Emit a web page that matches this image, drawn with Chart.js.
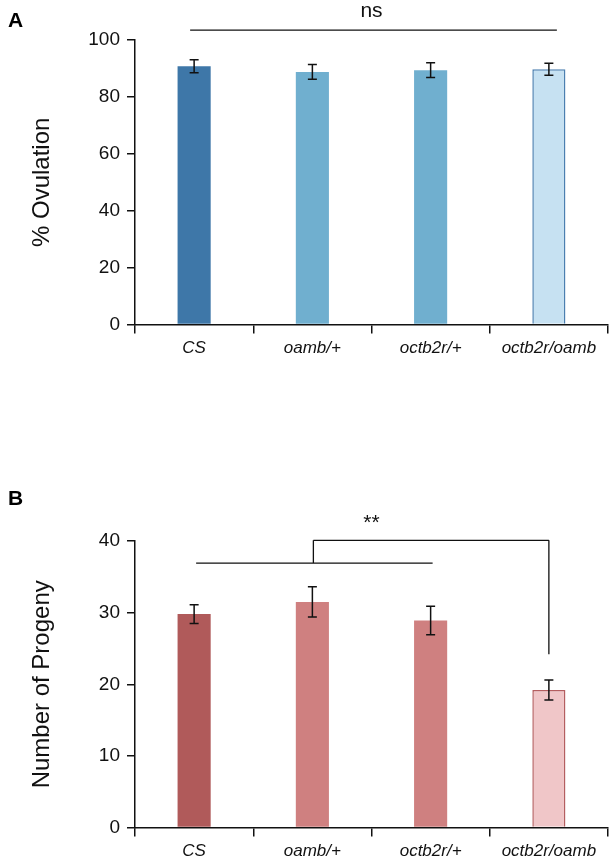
<!DOCTYPE html>
<html lang="en">
  <head>
    <title>Ovulation and progeny</title>
    <meta charset="UTF-8" />
    <style>
      body { margin: 0; background: #fff; overflow: hidden; }
      .panel { position: relative; width: 611px; }
      .letter { position: absolute; left: 8px; font: bold 21px "Liberation Sans", Arial, sans-serif; }
    </style>
  </head>
  <body>
    <div class="panel" style="height:407px">
      <div class="letter" style="top:8px">A</div>
      <canvas id="chartA"></canvas>
    </div>
    <div class="panel" style="height:458px">
      <div class="letter" style="top:79px">B</div>
      <canvas id="chartB"></canvas>
    </div>
    <script src="https://cdn.jsdelivr.net/npm/chart.js@4.4.0/dist/chart.umd.min.js"></script>
    <script>
      var categories = ["CS", "oamb/+", "octb2r/+", "octb2r/oamb"];

      // panel A
      var ovulation = [90.8, 88.8, 89.4, 89.7];
      var ovulationErr = [2.3, 2.6, 2.6, 2.1];
      var ovulationTicks = [0, 20, 40, 60, 80, 100];

      // panel B
      var progeny = [29.8, 31.5, 28.9, 19.2];
      var progenyErr = [1.3, 2.1, 2.0, 1.4];
      var progenyTicks = [0, 10, 20, 30, 40];

      var fontFam = '"Liberation Sans", Arial, sans-serif';

      // error bars + significance marks
      var extras = {
        id: "extras",
        afterDatasetsDraw: function (chart, args, opts) {
          var c = chart.ctx;
          var xs = chart.scales.x;
          var ys = chart.scales.y;
          c.save();
          c.strokeStyle = "#111";
          c.lineWidth = 1.5;
          opts.values.forEach(function (v, i) {
            var x = xs.getPixelForValue(i);
            var t = ys.getPixelForValue(v + opts.err[i]);
            var b = ys.getPixelForValue(v - opts.err[i]);
            c.beginPath();
            c.moveTo(x, t); c.lineTo(x, b);
            c.moveTo(x - 4.5, t); c.lineTo(x + 4.5, t);
            c.moveTo(x - 4.5, b); c.lineTo(x + 4.5, b);
            c.stroke();
          });
          c.lineWidth = 1.3;
          c.beginPath();
          opts.lines.forEach(function (l) {
            c.moveTo(xs.getPixelForValue(l[0]) + l[4], ys.getPixelForValue(l[1]));
            c.lineTo(xs.getPixelForValue(l[2]) + l[5], ys.getPixelForValue(l[3]));
          });
          c.stroke();
          c.fillStyle = "#111";
          c.font = "21px " + fontFam;
          c.textAlign = "center";
          c.textBaseline = "middle";
          c.fillText(opts.label[0], xs.getPixelForValue(opts.label[1]), ys.getPixelForValue(opts.label[2]));
          c.restore();
        }
      };

      function makeChart(id, h, padTop, padBottom, values, err, ticks, yMax, title, colors, borders, lines, label) {
        var el = document.getElementById(id);
        el.width = 611;
        el.height = h;
        return new Chart(el, {
          type: "bar",
          data: {
            labels: categories,
            datasets: [{
              data: values,
              backgroundColor: colors,
              borderColor: borders,
              borderWidth: [0, 0, 0, 1.5],
              borderSkipped: "bottom",
              barPercentage: 0.28,
              categoryPercentage: 1
            }]
          },
          options: {
            responsive: false,
            animation: false,
            layout: { padding: { top: padTop, right: 3, left: 0, bottom: padBottom } },
            plugins: {
              legend: { display: false },
              tooltip: { enabled: false },
              extras: { values: values, err: err, lines: lines, label: label }
            },
            scales: {
              x: {
                offset: true,
                grid: { offset: true, drawOnChartArea: false, drawTicks: true, tickLength: 9, color: "#111", lineWidth: 1.5 },
                border: { color: "#111", width: 1.5 },
                ticks: { color: "#111", padding: 4, font: { family: fontFam, size: 17, style: "italic" } }
              },
              y: {
                min: 0,
                max: yMax,
                afterFit: function (a) { a.width = 135; },
                afterBuildTicks: function (a) { a.ticks = ticks.map(function (v) { return { value: v }; }); },
                grid: { drawOnChartArea: false, drawTicks: true, tickLength: 8, color: "#111", lineWidth: 1.5 },
                border: { color: "#111", width: 1.5 },
                ticks: { color: "#111", padding: 7, font: { family: fontFam, size: 19 } },
                title: { display: true, text: title, color: "#111", padding: { top: 28, bottom: 0 }, font: { family: fontFam, size: 24 } }
              }
            }
          },
          plugins: [extras]
        });
      }

      makeChart("chartA", 407, 40, 45, ovulation, ovulationErr, ovulationTicks, 100, "% Ovulation",
        ["#3e77a8", "#70afcf", "#70afcf", "#c6e1f2"],
        ["#3e77a8", "#70afcf", "#70afcf", "#4b7fb0"],
        [[0, 103.5, 3, 103.5, -4, 8]],
        ["ns", 1.5, 110]);

      makeChart("chartB", 458, 134, 0, progeny, progenyErr, progenyTicks, 40, "Number of Progeny",
        ["#b05a5a", "#cf8080", "#cf8080", "#f0c6c8"],
        ["#b05a5a", "#cf8080", "#cf8080", "#b45e60"],
        [[0, 36.9, 2, 36.9, 2, 2], [1, 36.9, 1, 40.1, 1, 1], [1, 40.1, 3, 40.1, 1, 0], [3, 40.1, 3, 24.2, 0, 0]],
        ["**", 1.5, 42.5]);
    </script>
  </body>
</html>
